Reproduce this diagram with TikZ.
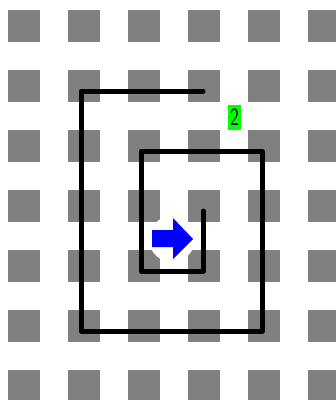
\documentclass[tikz,border=0pt]{standalone}
\usepackage{graphicx}
\usetikzlibrary{positioning}

\begin{document}
\begin{tikzpicture}[x=1pt, y=-1pt, >=stealth]

    \useasboundingbox (0,0) rectangle (336,400);
    \clip (0,0) rectangle (336,400);

    % grid of squares
    \foreach \i in {0,...,5}
        \foreach \j in {0,...,6}
            \fill[gray] (8+60*\i, 10+60*\j) rectangle ++(32,32);

    % white halo round the pointer
    \fill[white] (172,239) circle (23);

    \draw[black, line width=5pt, line join=round, line cap=round]
        (203,91) -- (81,91) -- (81,331) -- (262,331) -- (262,151)
        -- (141,151) -- (141,271) -- (203,271) -- (203,211);

    \fill[blue] (152,230) -- (173,230) -- (173,218) -- (193,239)
        -- (173,259) -- (173,247) -- (152,247) -- cycle;

    \node[fill=green, inner sep=0pt, minimum width=13pt, minimum height=25pt,
          font=\fontsize{25}{25}\sffamily] (count) at (234.5,117.5)
          {\scalebox{0.72}[1]{2}};

\end{tikzpicture}
\end{document}
